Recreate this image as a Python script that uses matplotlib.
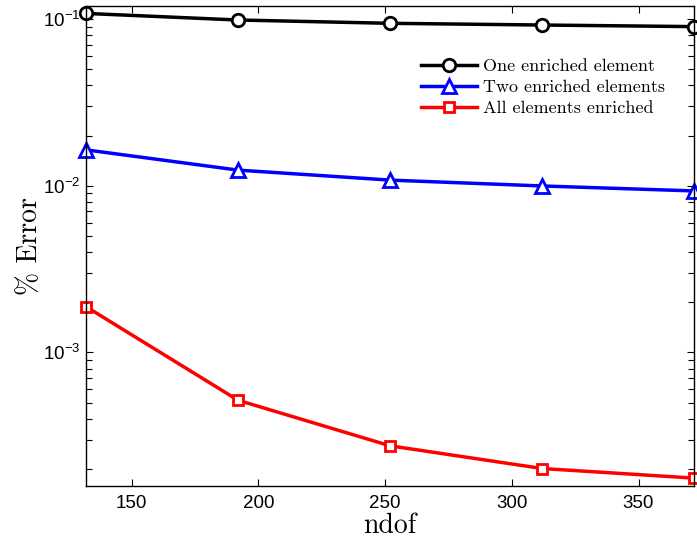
import numpy as np
import matplotlib
matplotlib.use('Agg')
import matplotlib.pyplot as plt
from matplotlib.ticker import LogLocator, LogFormatterSciNotation, NullFormatter

plt.rcParams['mathtext.fontset'] = 'custom'
plt.rcParams['mathtext.rm'] = 'Liberation Sans'
plt.rcParams['mathtext.it'] = 'Liberation Sans:italic'
plt.rcParams['font.family'] = 'Liberation Sans'

# data
ndof = [132, 192, 252, 312, 372]
err_one = [0.108, 0.0986, 0.0942, 0.0920, 0.0900]
err_two = [0.0164, 0.0124, 0.0108, 0.00996, 0.0093]
err_all = [1.88e-3, 5.16e-4, 2.75e-4, 2.01e-4, 1.76e-4]
labels = ['One enriched element', 'Two enriched elements', 'All elements enriched']
x_ticks = [150, 200, 250, 300, 350]

fig = plt.figure(figsize=(6.97, 5.43), dpi=100)
ax = fig.add_axes([0.1234, 0.1055, 0.8727, 0.8835])

ax.semilogy(ndof, err_one, '-o', color='black', lw=2.5, ms=9, mew=2,
            mfc='white', label=labels[0])
ax.semilogy(ndof, err_two, '-^', color='blue', lw=2.5, ms=10, mew=2,
            mfc='white', label=labels[1])
ax.semilogy(ndof, err_all, '-s', color='red', lw=2.5, ms=7, mew=2,
            mfc='white', label=labels[2])
for ln in ax.get_lines():
    ln.set_clip_on(False)

ax.set_xlim(132, 372)
ax.set_ylim(1.585e-4, 0.1197)
ax.set_xticks(x_ticks)
ax.yaxis.set_major_locator(LogLocator(base=10))
ax.yaxis.set_major_formatter(LogFormatterSciNotation())
ax.yaxis.set_minor_locator(LogLocator(base=10, subs=np.arange(2, 10)))
ax.yaxis.set_minor_formatter(NullFormatter())

ax.tick_params(which='both', direction='in', top=True, right=True, labelsize=13.5)
ax.tick_params(which='major', length=5, width=0.8)
ax.tick_params(which='minor', length=4, width=0.8)
ax.tick_params(axis='x', pad=7)
ax.tick_params(axis='y', pad=4)
for sp in ax.spines.values():
    sp.set_linewidth(1.0)

ax.set_xlabel('ndof', fontfamily='cmr10', fontsize=20, labelpad=0)
ax.set_ylabel('% Error', fontfamily='cmr10', fontsize=20, labelpad=0)

leg = ax.legend(loc='upper left', bbox_to_anchor=(0.551, 0.891), frameon=False,
                prop={'family': 'cmr10', 'size': 13}, handlelength=3.1,
                handletextpad=0.3, labelspacing=0.3, borderpad=0, borderaxespad=0)

fig.savefig('out.png', dpi=100)
